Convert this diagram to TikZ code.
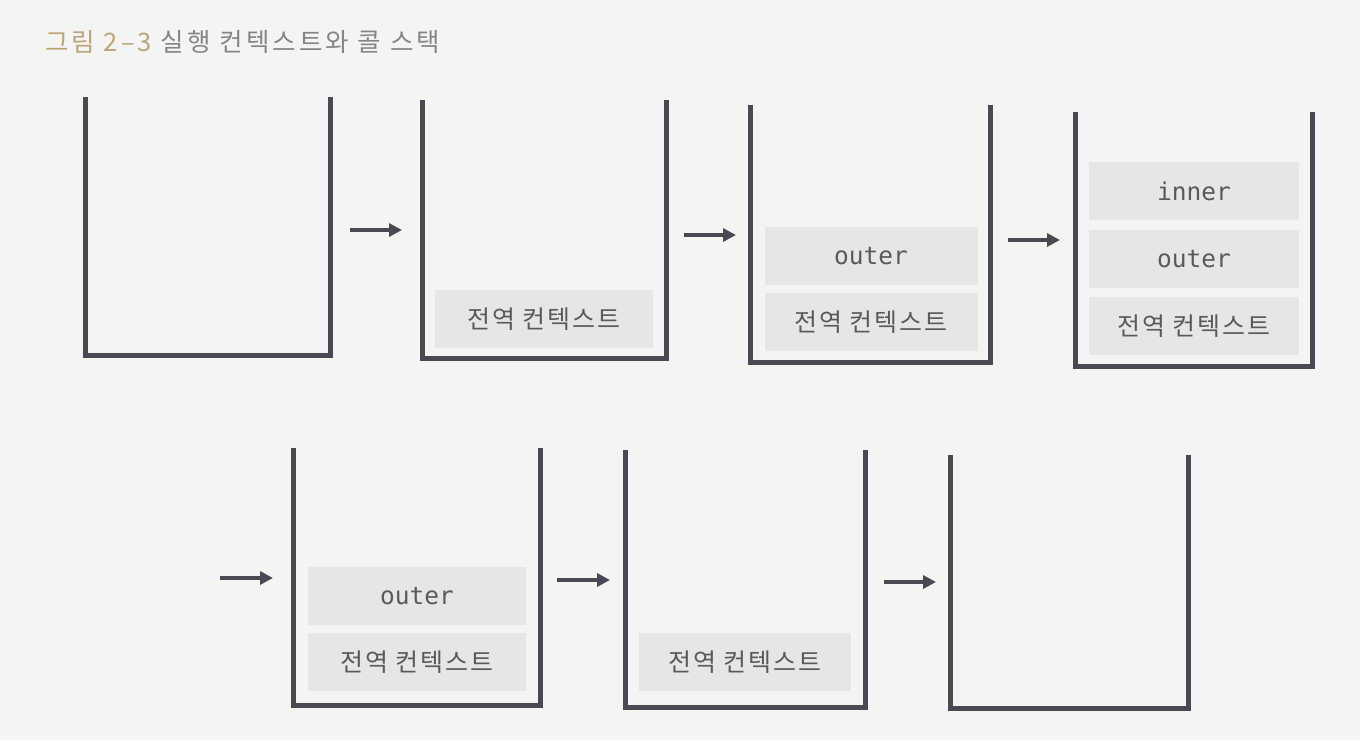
\documentclass[tikz,border=0pt]{standalone}
\usepackage{fontspec}
\setmainfont{Noto Sans CJK KR}[LetterSpace=8]
\newfontfamily\titlef{Noto Sans CJK KR}[LetterSpace=12]
\newfontfamily\monof{DejaVu Sans Mono}
\usetikzlibrary{arrows.meta}
\definecolor{bg}{HTML}{F4F4F2}
\definecolor{wall}{HTML}{4A4852}
\definecolor{blk}{HTML}{E6E6E4}
\definecolor{txt}{HTML}{5A5A5A}
\definecolor{gold}{HTML}{BBA57A}
\definecolor{ttl}{HTML}{858585}
\tikzset{
  stackwall/.style={draw=wall, line width=5pt, line cap=butt, line join=miter},
  frame/.style={fill=blk, draw=none, minimum width=218pt, minimum height=58pt, inner sep=0pt, text=txt, font=\fontsize{25}{25}\selectfont},
  monoframe/.style={frame, font=\monof\fontsize{24.5}{25}\selectfont},
  flow/.style={draw=wall, line width=3.5pt, -{Triangle[length=13pt,width=13pt]}},
}
\begin{document}
\begin{tikzpicture}[x=1pt,y=-1pt]
\useasboundingbox[fill=bg] (0,0) rectangle (1360,740);
\node[anchor=west, inner sep=0pt, font=\titlef\fontsize{25.5}{26}\selectfont] (title) at (45,42) {\textcolor{gold}{그림 2–3} \textcolor{ttl}{실행 컨텍스트와 콜 스택}};

% stack 1
\draw[stackwall] (85,97) -- (85,355) -- (330,355) -- (330,97);
% stack 2
\draw[stackwall] (422,100) -- (422,358) -- (666,358) -- (666,100);
\node[frame] (g2) at (544,319) {전역 컨텍스트};
% stack 3
\draw[stackwall] (750,105) -- (750,362) -- (990,362) -- (990,105);
\node[frame, minimum width=213pt] (g3) at (871,322) {전역 컨텍스트};
\node[monoframe, minimum width=213pt] (o3) at (871,256) {outer};
% stack 4
\draw[stackwall] (1075,112) -- (1075,366) -- (1312,366) -- (1312,112);
\node[frame, minimum width=210pt] (g4) at (1194,326) {전역 컨텍스트};
\node[monoframe, minimum width=210pt] (o4) at (1194,259) {outer};
\node[monoframe, minimum width=210pt] (i4) at (1194,191) {inner};
% stack 5
\draw[stackwall] (293,448) -- (293,705) -- (540,705) -- (540,448);
\node[frame] (g5) at (417,662) {전역 컨텍스트};
\node[monoframe] (o5) at (417,596) {outer};
% stack 6
\draw[stackwall] (625,450) -- (625,707) -- (865,707) -- (865,450);
\node[frame, minimum width=212pt] (g6) at (745,662) {전역 컨텍스트};
% stack 7
\draw[stackwall] (950,455) -- (950,708) -- (1188,708) -- (1188,455);

% arrows
\coordinate (a1s) at (350,230); \coordinate (a1e) at (402,230);
\coordinate (a2s) at (684,235); \coordinate (a2e) at (736,235);
\coordinate (a3s) at (1008,240); \coordinate (a3e) at (1060,240);
\coordinate (a4s) at (220,578); \coordinate (a4e) at (273,578);
\coordinate (a5s) at (557,580); \coordinate (a5e) at (610,580);
\coordinate (a6s) at (884,582); \coordinate (a6e) at (936,582);
\draw[flow] (a1s) -- (a1e);
\draw[flow] (a2s) -- (a2e);
\draw[flow] (a3s) -- (a3e);
\draw[flow] (a4s) -- (a4e);
\draw[flow] (a5s) -- (a5e);
\draw[flow] (a6s) -- (a6e);
\end{tikzpicture}
\end{document}
